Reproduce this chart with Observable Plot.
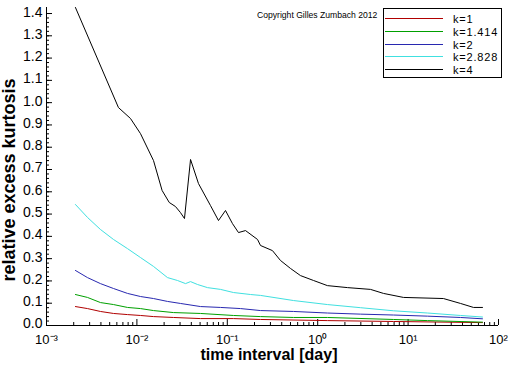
<!DOCTYPE html>
<html><head><meta charset="utf-8">
<script src="https://cdn.jsdelivr.net/npm/d3@7"></script>
<script src="https://cdn.jsdelivr.net/npm/@observablehq/plot@0.6"></script>
<style>
body{margin:0;background:#fff;}
#wrap{position:relative;width:512px;height:366px;font-family:"Liberation Sans",Arial,sans-serif;color:#000;}
.ov{position:absolute;white-space:nowrap;}
</style></head><body><div id="wrap"></div>
<script>
// ---- data (time interval in days, relative excess kurtosis) ----
const seriesNames  = ["k=1", "k=1.414", "k=2", "k=2.828", "k=4"];
const seriesColors = ["#b00000", "#00a000", "#2828b0", "#40e0e0", "#000000"];

const daysK1 = [0.00209, 0.00284, 0.00395, 0.00551, 0.00787, 0.01096, 0.01527, 0.0254, 0.0505, 0.117, 0.233, 1.28, 6.89, 66.5];
const kurtK1 = [0.085, 0.076, 0.063, 0.054, 0.049, 0.045, 0.040, 0.036, 0.031, 0.031, 0.027, 0.022, 0.018, 0.013];

const daysK1414 = [0.00209, 0.00284, 0.00395, 0.00551, 0.00787, 0.01096, 0.01527, 0.0254, 0.0505, 0.117, 0.233, 0.540, 1.28, 6.89, 16.4, 66.5];
const kurtK1414 = [0.139, 0.126, 0.103, 0.094, 0.081, 0.076, 0.067, 0.058, 0.054, 0.045, 0.040, 0.036, 0.036, 0.027, 0.022, 0.015];

const daysK2 = [0.00209, 0.00284, 0.00395, 0.00551, 0.00787, 0.01096, 0.01527, 0.0218, 0.0303, 0.0505, 0.0841, 0.140, 0.233, 0.540, 1.28, 2.97, 6.89, 16.4, 38.0, 66.5];
const kurtK2 = [0.247, 0.215, 0.188, 0.166, 0.144, 0.130, 0.121, 0.108, 0.099, 0.085, 0.081, 0.076, 0.067, 0.063, 0.056, 0.051, 0.047, 0.042, 0.036, 0.030];

const daysK2828 = [0.00209, 0.00284, 0.00395, 0.00551, 0.00787, 0.01096, 0.01527, 0.0218, 0.0281, 0.0345, 0.0392, 0.0468, 0.0604, 0.0841, 0.117, 0.181, 0.233, 0.540, 1.28, 2.97, 6.89, 16.4, 38.0, 66.5];
const kurtK2828 = [0.543, 0.485, 0.431, 0.386, 0.345, 0.305, 0.265, 0.215, 0.202, 0.188, 0.197, 0.184, 0.170, 0.162, 0.148, 0.139, 0.135, 0.112, 0.094, 0.080, 0.066, 0.056, 0.045, 0.038];

const daysK4 = [0.00209, 0.00625, 0.00849, 0.01096, 0.01527, 0.0190, 0.0228, 0.0267, 0.0303, 0.0336, 0.0392, 0.0480, 0.0652, 0.0799, 0.0955, 0.1142, 0.133, 0.159, 0.216, 0.233, 0.316, 0.387, 0.500, 0.645, 0.899, 1.28, 2.14, 3.84, 5.34, 8.89, 24.6, 38.0, 52.9, 66.5];
const kurtK4 = [1.427, 0.978, 0.929, 0.861, 0.740, 0.606, 0.552, 0.534, 0.507, 0.480, 0.745, 0.637, 0.538, 0.471, 0.516, 0.457, 0.417, 0.426, 0.386, 0.359, 0.336, 0.292, 0.256, 0.224, 0.202, 0.179, 0.170, 0.162, 0.144, 0.126, 0.121, 0.099, 0.081, 0.081];

// ---- ticks ----
const yMajorTicks = [0, 0.1, 0.2, 0.3, 0.4, 0.5, 0.6, 0.7, 0.8, 0.9, 1.0, 1.1, 1.2, 1.3, 1.4];
const yMinorTicks = d3.range(0, 71).map(i => i * 0.02).filter(v => v <= 1.42);
const xMajorTicks = [1e-3, 1e-2, 1e-1, 1e0, 1e1, 1e2];
const xTickLabels = ["10\u207B\u00B3", "10\u207B\u00B2", "10\u207B\u00B9", "10\u2070", "10\u00B9", "10\u00B2"];
const xMinorTicks = [];
xMajorTicks.slice(0, -1).forEach(d => { for (let m = 2; m <= 9; m++) xMinorTicks.push(d * m); });

const xTitle = "time interval [day]";
const yTitle = "relative excess kurtosis";
const copyright = "Copyright Gilles Zumbach 2012";

// ---- table ----
const seriesDays = [daysK1, daysK1414, daysK2, daysK2828, daysK4];
const seriesKurt = [kurtK1, kurtK1414, kurtK2, kurtK2828, kurtK4];
const rows = [];
seriesNames.forEach((name, s) => {
  seriesDays[s].forEach((d, i) => rows.push({series: name, days: d, kurt: seriesKurt[s][i]}));
});

const chart = Plot.plot({
  width: 512, height: 366,
  marginLeft: 46, marginRight: 14, marginTop: 7, marginBottom: 41,
  style: {fontFamily: "Liberation Sans, Arial, sans-serif", background: "white", color: "black", overflow: "visible"},
  x: {type: "log", domain: [1e-3, 1e2], label: null},
  y: {domain: [0, 1.427], label: null},
  color: {domain: seriesNames, range: seriesColors},
  marks: [
    Plot.axisY(yMinorTicks, {tickSize: 3, dx: 3, tickFormat: () => "", label: null}),
    Plot.axisY(yMajorTicks, {tickSize: 6, dx: 6, tickFormat: () => "", label: null}),
    Plot.axisY(yMajorTicks, {tickSize: 0, tickPadding: 4, dy: -1.5, tickFormat: d3.format(".1f"), fontSize: 14, label: null}),
    Plot.axisX(xMinorTicks, {tickSize: 3, dy: -3, tickFormat: () => "", label: null}),
    Plot.axisX(xMajorTicks, {tickSize: 6, dy: -6, tickFormat: () => "", label: null}),
    Plot.axisX(xMajorTicks, {tickSize: 0, tickPadding: 9, tickFormat: (d) => xTickLabels[xMajorTicks.indexOf(d)], fontSize: 13, label: null}),
    Plot.ruleX([1e-3]),
    Plot.ruleY([0]),
    Plot.line(rows, {x: "days", y: "kurt", z: "series", stroke: "series", strokeWidth: 1})
  ]
});

const wrap = document.getElementById("wrap");
wrap.appendChild(chart);

function ov(text, css) {
  const el = document.createElement("div");
  el.className = "ov";
  el.textContent = text;
  Object.assign(el.style, css);
  wrap.appendChild(el);
  return el;
}
// axis titles
ov(xTitle, {left: "119px", width: "300px", textAlign: "center", top: "350px", fontSize: "16px", lineHeight: "10px", fontWeight: "bold"});
ov(yTitle, {left: "-141px", width: "300px", textAlign: "center", top: "171px", fontSize: "18px", lineHeight: "18px", fontWeight: "bold", transform: "rotate(-90deg)"});
// copyright
ov(copyright, {left: "257px", top: "11px", fontSize: "8.6px", lineHeight: "8.6px"});
// legend
const box = document.createElement("div");
Object.assign(box.style, {position: "absolute", left: "383px", top: "8px", width: "117px", height: "68px", border: "1px solid #000", background: "#fff"});
wrap.appendChild(box);
seriesNames.forEach((name, i) => {
  const cy = 19 + i * 12.75;
  const ln = document.createElement("div");
  Object.assign(ln.style, {position: "absolute", left: "385px", top: (Math.round(cy) - 1) + "px", width: "58px", height: "0", borderTop: "1px solid " + seriesColors[i]});
  wrap.appendChild(ln);
  ov(name, {left: "453px", top: (cy - 5) + "px", fontSize: "11px", lineHeight: "10px", letterSpacing: "0.8px"});
});
</script></body></html>
